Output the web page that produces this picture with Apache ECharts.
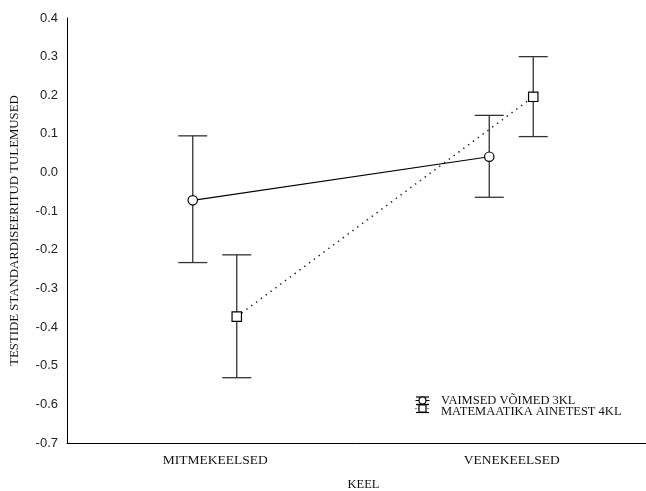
<!DOCTYPE html>
<html>
<head>
<meta charset="utf-8">
<title>Keel</title>
<script src="https://cdn.jsdelivr.net/npm/echarts@6/dist/echarts.min.js"></script>
<style>
html, body { margin: 0; padding: 0; background: #fff; }
#main { width: 646px; height: 491px; }
</style>
</head>
<body>
<div id="main"></div>
<script>
"use strict";

/* data */
var categories = ['MITMEKEELSED', 'VENEKEELSED'];
var vaimsedMean = [-0.072, 0.041];
var vaimsedLow = [-0.233, -0.064];
var vaimsedHigh = [0.095, 0.148];
var matemMean = [-0.373, 0.196];
var matemLow = [-0.531, 0.093];
var matemHigh = [-0.213, 0.300];
var seriesNames = ['VAIMSED VÕIMED 3KL', 'MATEMAATIKA AINETEST 4KL'];
var yMin = -0.7, yMax = 0.4, yStep = 0.1;

var serif = '"Liberation Serif", "DejaVu Serif", serif';
var sans = '"Liberation Sans", Arial, sans-serif';

// one custom series = error bars + marker + line to next point
function errorSeries(name, mean, low, high, dx, symbol, dotted) {
	return {
		type: 'custom',
		name: name,
		data: mean.map(function (v, i) { return [i, v, low[i], high[i]]; }),
		encode: { x: 0, y: [1, 2, 3] },
		renderItem: function (params, api) {
			var i = api.value(0);
			var p = api.coord([i, api.value(1)]);
			var lo = api.coord([i, api.value(2)]);
			var hi = api.coord([i, api.value(3)]);
			var x = p[0] + dx;
			var kids = [];
			if (i < mean.length - 1) {
				var q = api.coord([i + 1, mean[i + 1]]);
				kids.push({
					type: 'line',
					shape: { x1: x, y1: p[1], x2: q[0] + dx, y2: q[1] },
					style: { stroke: dotted ? '#222' : '#000', lineWidth: dotted ? 1.5 : 1.1, lineDash: dotted ? [1.4, 4.6] : null }
				});
			}
			var bar = { stroke: '#333', lineWidth: 1.3 };
			kids.push({ type: 'line', shape: { x1: x, y1: hi[1], x2: x, y2: lo[1] }, style: bar });
			kids.push({ type: 'line', shape: { x1: x - 14.5, y1: hi[1], x2: x + 14.5, y2: hi[1] }, style: bar });
			kids.push({ type: 'line', shape: { x1: x - 14.5, y1: lo[1], x2: x + 14.5, y2: lo[1] }, style: bar });
			var mk = { fill: '#fff', stroke: '#000', lineWidth: 1.2 };
			if (symbol === 'circle') {
				kids.push({ type: 'circle', shape: { cx: x, cy: p[1], r: 4.7 }, style: mk });
			} else {
				kids.push({ type: 'rect', shape: { x: x - 4.7, y: p[1] - 4.7, width: 9.4, height: 9.4 }, style: mk });
			}
			return { type: 'group', children: kids };
		}
	};
}

// legend drawn by hand (error bar icons)
function legendIcon(y0, y1, cy, symbol, dotted) {
	var cx = 422.5;
	var ln = { stroke: '#000', lineWidth: 1.2 };
	var kids = [
		{ type: 'line', shape: { x1: cx - 6.5, y1: y0, x2: cx + 6.5, y2: y0 }, style: ln },
		{ type: 'line', shape: { x1: cx - 6.5, y1: y1, x2: cx + 6.5, y2: y1 }, style: ln },
		{ type: 'line', shape: { x1: cx, y1: y0, x2: cx, y2: y1 }, style: ln },
		{ type: 'line', shape: { x1: cx - 7, y1: cy, x2: cx + 7, y2: cy }, style: { stroke: '#000', lineWidth: 1, lineDash: dotted ? [1, 2] : null } }
	];
	if (symbol === 'circle') {
		kids.push({ type: 'circle', shape: { cx: cx, cy: cy, r: 3.5 }, style: { fill: '#fff', stroke: '#000', lineWidth: 1.2 } });
	} else {
		kids.push({ type: 'rect', shape: { x: cx - 3.5, y: cy - 3.5, width: 7, height: 7 }, style: { fill: '#fff', stroke: '#000', lineWidth: 1.2 } });
	}
	return kids;
}

var chart = echarts.init(document.getElementById('main'));
var option = {
	animation: false,
	backgroundColor: '#fff',
	grid: { left: 67, right: -14, top: 18, bottom: 48, containLabel: false, outerBoundsMode: 'none' },
	xAxis: {
		type: 'category',
		data: categories,
		boundaryGap: true,
		name: 'KEEL',
		nameLocation: 'middle',
		nameGap: 35,
		nameTextStyle: { fontFamily: serif, fontSize: 12.5, color: '#111' },
		axisLine: { onZero: false, lineStyle: { color: '#000', width: 1 } },
		axisTick: { show: false },
		axisLabel: { fontFamily: serif, fontSize: 13.5, color: '#111', margin: 10 },
		splitLine: { show: false }
	},
	yAxis: {
		type: 'value',
		min: yMin,
		max: yMax,
		interval: yStep,
		name: 'TESTIDE STANDARDISEERITUD TULEMUSED',
		nameLocation: 'middle',
		nameGap: 46,
		nameRotate: 90,
		nameTextStyle: { fontFamily: serif, fontSize: 12.8, color: '#111' },
		axisLine: { show: true, lineStyle: { color: '#000', width: 1 } },
		axisTick: { show: false },
		splitLine: { show: false },
		axisLabel: {
			fontFamily: sans, fontSize: 13, color: '#222', margin: 9,
			formatter: function (v) { return Math.abs(v) < 1e-9 ? '0.0' : v.toFixed(1); }
		}
	},
	series: [
		errorSeries(seriesNames[0], vaimsedMean, vaimsedLow, vaimsedHigh, -22.5, 'circle', false),
		errorSeries(seriesNames[1], matemMean, matemLow, matemHigh, 21.5, 'rect', true)
	],
	graphic: [{
		type: 'group',
		children: legendIcon(397, 404.5, 400.5, 'circle', false)
			.concat(legendIcon(404.5, 412.5, 408.5, 'rect', true))
			.concat([
				{ type: 'text', x: 441, y: 401, style: { text: seriesNames[0], font: '12.5px ' + serif, fill: '#111', verticalAlign: 'middle' } },
				{ type: 'text', x: 441, y: 412, style: { text: seriesNames[1], font: '12.5px ' + serif, fill: '#111', verticalAlign: 'middle' } }
			])
	}]
};
chart.setOption(option);
</script>
</body>
</html>
